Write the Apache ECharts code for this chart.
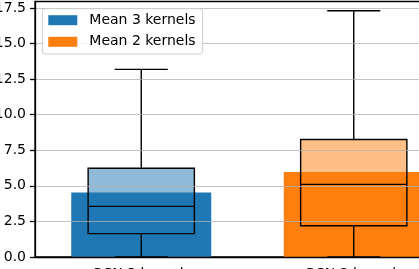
<!DOCTYPE html>
<html>
<head>
<meta charset="utf-8">
<script src="https://cdn.jsdelivr.net/npm/echarts@6/dist/echarts.min.js"></script>
<style>
html,body{margin:0;padding:0;background:#fff;}
#chart{width:419px;height:269px;}
</style>
</head>
<body>
<div id="chart"></div>
<script>
const categories = ['GCN 3 kernels', 'GCN 2 kernels'];
const seriesNames = ['Mean 3 kernels', 'Mean 2 kernels'];
const meanValues = [4.54, 5.97];
const boxMin = [0, 0];
const boxQ1 = [1.64, 2.2];
const boxMedian = [3.56, 5.1];
const boxQ3 = [6.23, 8.26];
const boxMax = [13.18, 17.3];
const yTicks = [0, 2.5, 5, 7.5, 10, 12.5, 15, 17.5];

const palette = ['#1f77b4', '#ff7f0e'];
const boxFill = ['rgba(31,119,180,0.5)', 'rgba(255,127,14,0.5)'];
const FONT = 'DejaVu Sans';

const chart = echarts.init(document.getElementById('chart'), null, {renderer: 'canvas'});

const barSeries = seriesNames.map((name, s) => ({
  name: name,
  type: 'bar',
  barWidth: 140,
  barGap: '-100%',
  itemStyle: {color: palette[s]},
  z: 2,
  data: categories.map((c, i) => (i === s ? meanValues[i] : '-'))
}));

const boxData = categories.map((c, i) => [i, boxMin[i], boxQ1[i], boxMedian[i], boxQ3[i], boxMax[i]]);

const boxSeries = {
  type: 'custom',
  name: 'box',
  z: 3,
  encode: {x: 0, y: [1, 2, 3, 4, 5]},
  data: boxData,
  renderItem: function (params, api) {
    const i = api.value(0);
    const band = api.size([1, 0])[0];
    const bw = band * 0.5;
    const cw = band * 0.25;
    const pMin = api.coord([i, api.value(1)]);
    const pQ1 = api.coord([i, api.value(2)]);
    const pMed = api.coord([i, api.value(3)]);
    const pQ3 = api.coord([i, api.value(4)]);
    const pMax = api.coord([i, api.value(5)]);
    const cx = pMed[0];
    const ls = {stroke: '#000', lineWidth: 1.4};
    return {
      type: 'group',
      children: [
        {type: 'rect', shape: {x: cx - bw / 2, y: pQ3[1], width: bw, height: pQ1[1] - pQ3[1]},
          style: {fill: boxFill[i], stroke: '#000', lineWidth: 1.4}},
        {type: 'line', shape: {x1: cx - bw / 2, y1: pMed[1], x2: cx + bw / 2, y2: pMed[1]}, style: ls},
        {type: 'line', shape: {x1: cx, y1: pQ3[1], x2: cx, y2: pMax[1]}, style: ls},
        {type: 'line', shape: {x1: cx, y1: pQ1[1], x2: cx, y2: pMin[1]}, style: ls},
        {type: 'line', shape: {x1: cx - cw / 2, y1: pMax[1], x2: cx + cw / 2, y2: pMax[1]}, style: ls},
        {type: 'line', shape: {x1: cx - cw / 2, y1: pMin[1], x2: cx + cw / 2, y2: pMin[1]}, style: ls}
      ]
    };
  }
};

const option = {
  animation: false,
  backgroundColor: '#fff',
  textStyle: {fontFamily: FONT},
  grid: {
    left: 35, top: 1.5, width: 425, height: 255.5,
    containLabel: false,
    outerBoundsMode: 'none',
    show: true, borderColor: '#000', borderWidth: 1.3, backgroundColor: 'transparent'
  },
  legend: {
    data: seriesNames,
    orient: 'vertical',
    left: 42.3, top: 8.7,
    padding: [4.5, 7, 5.2, 6],
    itemWidth: 29, itemHeight: 10, itemGap: 7.6,
    icon: 'rect',
    backgroundColor: 'rgba(255,255,255,0.85)',
    borderColor: '#cccccc', borderWidth: 1, borderRadius: 3,
    z: 20,
    textStyle: {fontFamily: FONT, fontSize: 14, color: '#000', lineHeight: 14, padding: [0, 0, 0, 7]}
  },
  xAxis: {
    type: 'category',
    data: categories,
    boundaryGap: true,
    z: 10,
    axisLine: {lineStyle: {color: '#000', width: 1.3}},
    axisTick: {alignWithLabel: true, length: 5, lineStyle: {color: '#000', width: 1.3}},
    axisLabel: {fontFamily: FONT, fontSize: 14, color: '#000', margin: 10, hideOverlap: false},
    splitLine: {show: false}
  },
  yAxis: {
    type: 'value',
    min: 0, max: 17.95, interval: 2.5,
    z: 10,
    axisLine: {show: true, lineStyle: {color: '#000', width: 1.3}},
    axisTick: {show: true, length: 5, lineStyle: {color: '#000', width: 1.3}, customValues: yTicks},
    axisLabel: {fontFamily: FONT, fontSize: 14, color: '#000', margin: 9, customValues: yTicks,
      formatter: v => Number(v).toFixed(1)},
    splitLine: {show: true, lineStyle: {color: 'rgba(176,176,176,0.75)', width: 1.2}}
  },
  series: barSeries.concat([boxSeries])
};

chart.setOption(option);
</script>
</body>
</html>
